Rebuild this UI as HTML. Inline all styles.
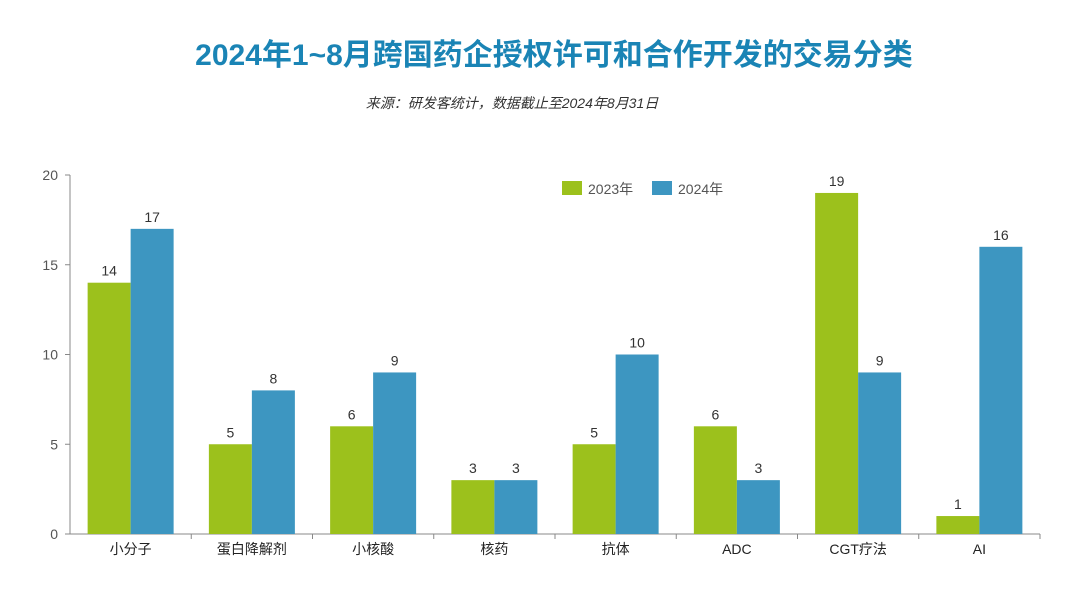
<!DOCTYPE html>
<html><head><meta charset="utf-8"><style>
body{margin:0;width:1080px;height:596px;background:#fff;overflow:hidden;font-family:"Liberation Sans","Noto Sans CJK SC",sans-serif;}
svg{position:absolute;left:0;top:0}
</style></head><body>
<svg width="1080" height="596" id="chart">
<text x="554" y="65" text-anchor="middle" font-size="30" font-weight="bold" fill="#1a84b5" font-family="Liberation Sans,Noto Sans CJK SC,sans-serif">2024年1~8月跨国药企授权许可和合作开发的交易分类</text>
<text x="512" y="108" text-anchor="middle" font-size="14" font-style="italic" fill="#333" font-family="Liberation Sans,Noto Sans CJK SC,sans-serif">来源：研发客统计，数据截止至2024年8月31日</text>
<g id="plot"></g>
<rect x="562" y="181" width="20" height="14" fill="#9cc11c"/>
<text x="588" y="194" font-size="14" fill="#555">2023年</text>
<rect x="652" y="181" width="20" height="14" fill="#3d96c1"/>
<text x="678" y="194" font-size="14" fill="#555">2024年</text>
</svg>
<script>
const categories=["小分子","蛋白降解剂","小核酸","核药","抗体","ADC","CGT疗法","AI"];
const values2023=[14,5,6,3,5,6,19,1];
const values2024=[17,8,9,3,10,3,9,16];
const yTicks=[0,5,10,15,20];
const NS="http://www.w3.org/2000/svg";
const g=document.getElementById('plot');
const x0=70,x1=1040,y0=534,yTop=175,yMax=20;
const y=v=>y0-(y0-yTop)*v/yMax;
const band=(x1-x0)/categories.length;
const cx=i=>x0+band*(i+0.5);
const bw=43;
function el(t,a){const e=document.createElementNS(NS,t);for(const k in a)e.setAttribute(k,a[k]);g.appendChild(e);return e;}
let ax=el('line',{x1:x0,y1:yTop,x2:x0,y2:y0,stroke:'#888'});


let bx=el('line',{x1:x0,y1:y0,x2:x1,y2:y0,stroke:'#888'});


yTicks.forEach(t=>{
 el('line',{x1:x0-5,y1:y(t),x2:x0,y2:y(t),stroke:'#888'});
 const tx=el('text',{x:x0-12,y:y(t)+5,'text-anchor':'end','font-size':14,fill:'#555'});tx.textContent=t;
 
 
});
categories.forEach((c,i)=>{
 el('line',{x1:x0+band*(i+1),y1:y0,x2:x0+band*(i+1),y2:y0+5,stroke:'#888'});
 const lb=el('text',{x:cx(i),y:y0+20,'text-anchor':'middle','font-size':14,fill:'#222'});lb.textContent=c;
 
 
 [[values2023[i],'#9cc11c',-bw],[values2024[i],'#3d96c1',0]].forEach(([v,col,off],k)=>{
  const r=el('rect',{x:cx(i)+off,y:y(v),width:bw,height:y0-y(v),fill:col});
  
  
  const t=el('text',{x:cx(i)+off+bw/2,y:y(v)-7,'text-anchor':'middle','font-size':14,fill:'#333'});t.textContent=v;
  
  
 });
});
</script>
</body></html>
